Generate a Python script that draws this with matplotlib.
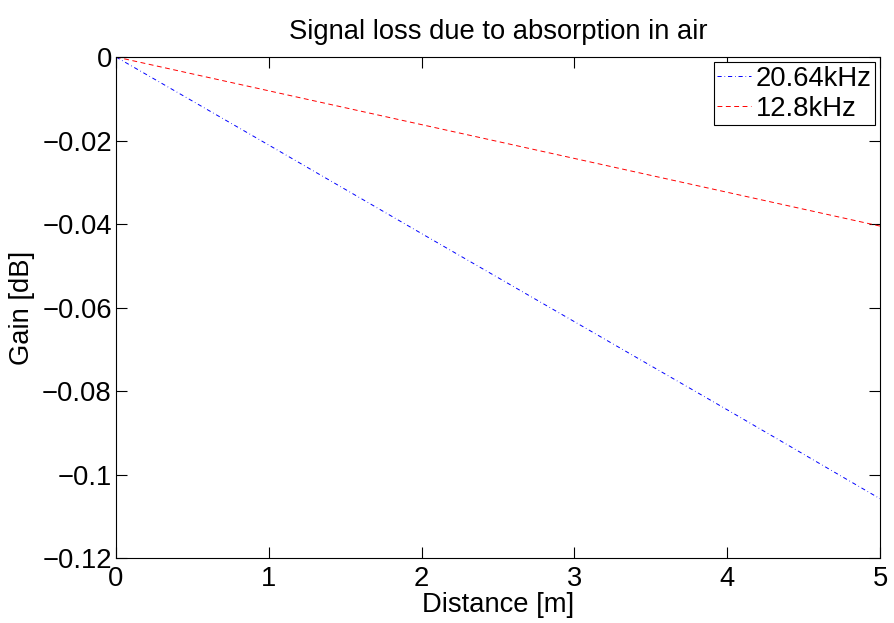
import matplotlib
matplotlib.use("Agg")
import matplotlib.pyplot as plt

# distances [m] and gain [dB]
distance = [0, 1, 2, 3, 4, 5]
gain_20k = [0, -0.0211, -0.0423, -0.0634, -0.0845, -0.1058]
gain_12k = [0, -0.0081, -0.0162, -0.0243, -0.0324, -0.0405]

xticks = [0, 1, 2, 3, 4, 5]
yticks = [0, -0.02, -0.04, -0.06, -0.08, -0.1, -0.12]
ytick_labels = ["0", "\u22120.02", "\u22120.04", "\u22120.06", "\u22120.08", "\u22120.1", "\u22120.12"]

plt.rcParams["font.family"] = ["Liberation Sans", "DejaVu Sans"]
plt.rcParams["font.size"] = 19.7

fig = plt.figure(figsize=(8.94, 6.23), dpi=100)
ax = fig.add_axes([0.1298, 0.1043, 0.8546, 0.8042])

ax.plot(distance, gain_20k, color="blue", linestyle=(0, (4.3, 2.9, 0.7, 2.9)),
        linewidth=0.7, label="20.64kHz")
ax.plot(distance, gain_12k, color="red", linestyle=(0, (5, 3.6)),
        linewidth=0.7, label="12.8kHz")

ax.set_xlim(0, 5)
ax.set_ylim(-0.12, 0)
ax.set_xticks(xticks)
ax.set_xticklabels([str(t) for t in xticks])
ax.set_yticks(yticks)
ax.set_yticklabels(ytick_labels)
ax.tick_params(direction="in", length=8, width=0.8, top=True, right=True)
ax.tick_params(axis="x", pad=6)
ax.tick_params(axis="y", pad=3)
for s in ax.spines.values():
    s.set_linewidth(0.8)

ax.set_title("Signal loss due to absorption in air", fontsize=19.7, pad=13)
ax.set_xlabel("Distance [m]", labelpad=0)
ax.set_ylabel("Gain [dB]", labelpad=5)

leg = ax.legend(loc="upper right", fancybox=False, framealpha=1, edgecolor="black",
                borderpad=0.12, handlelength=1.25, handletextpad=0.15, labelspacing=0.15,
                borderaxespad=0.2)
leg.get_frame().set_linewidth(0.8)

fig.savefig("out.png", dpi=100)
